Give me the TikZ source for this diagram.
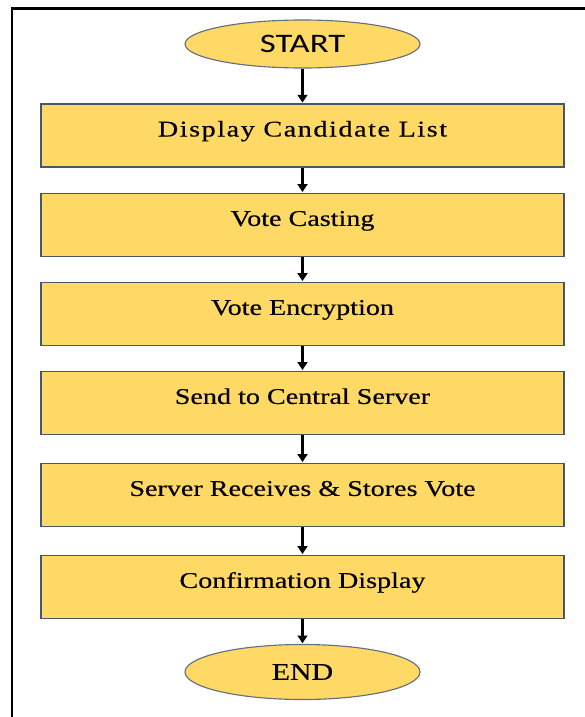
\documentclass[tikz,border=0pt]{standalone}
\usepackage{fontspec}
\setmainfont{Liberation Serif}
\newfontfamily\boxfont[FakeStretch=1.25,FakeBold=0.4]{Liberation Serif}
\newfontfamily\termfont[FakeStretch=1.3]{Carlito}
\usetikzlibrary{shapes.geometric,arrows.meta}
\definecolor{boxfill}{HTML}{FFD966}
\definecolor{boxline}{HTML}{4A5566}

\begin{document}
\begin{tikzpicture}[>={Triangle[length=5.5pt,width=7pt]},
  stepbox/.style={draw=boxline,line width=1.2pt,fill=boxfill,inner sep=0pt,
    minimum width=13.075cm,minimum height=1.575cm,
    font=\boxfont\fontsize{16}{19}\selectfont,text height=0.75em,text depth=0.62em},
  term/.style={ellipse,draw=boxline!85,line width=0.8pt,fill=boxfill,inner sep=0pt,
    minimum width=5.875cm},
  flow/.style={->,line width=1.8pt,shorten >=0.5pt}]
  \useasboundingbox (0,0) rectangle (14.6,-17.925);
  % frame
  \draw[line width=1.5pt] (0.3,-18.1) -- (0.3,-0.2125) -- (14.8,-0.2125);
  \node[term,minimum height=1.2cm,font=\termfont\fontsize{19}{22}\selectfont] (start) at (7.5625,-1.1) {START};
  \node[stepbox] (list) at (7.5625,-3.39) {\addfontfeature{LetterSpace=7}Display Candidate List};
  \node[stepbox] (cast) at (7.5625,-5.625) {Vote Casting};
  \node[stepbox] (encrypt) at (7.5625,-7.85) {Vote Encryption};
  \node[stepbox] (send) at (7.5625,-10.075) {Send to Central Server};
  \node[stepbox] (store) at (7.5625,-12.375) {Server Receives \& Stores Vote};
  \node[stepbox] (confirm) at (7.5625,-14.675) {Confirmation Display};
  \node[term,minimum height=1.375cm,font=\boxfont\fontsize{17}{20}\selectfont] (end) at (7.5625,-16.8) {END};
  % arrows
  \draw[flow] (start.south) -- (list.north);
  \draw[flow] (list.south) -- (cast.north);
  \draw[flow] (cast.south) -- (encrypt.north);
  \draw[flow] (encrypt.south) -- (send.north);
  \draw[flow] (send.south) -- (store.north);
  \draw[flow] (store.south) -- (confirm.north);
  \draw[flow] (confirm.south) -- (end.north);
\end{tikzpicture}
\end{document}
